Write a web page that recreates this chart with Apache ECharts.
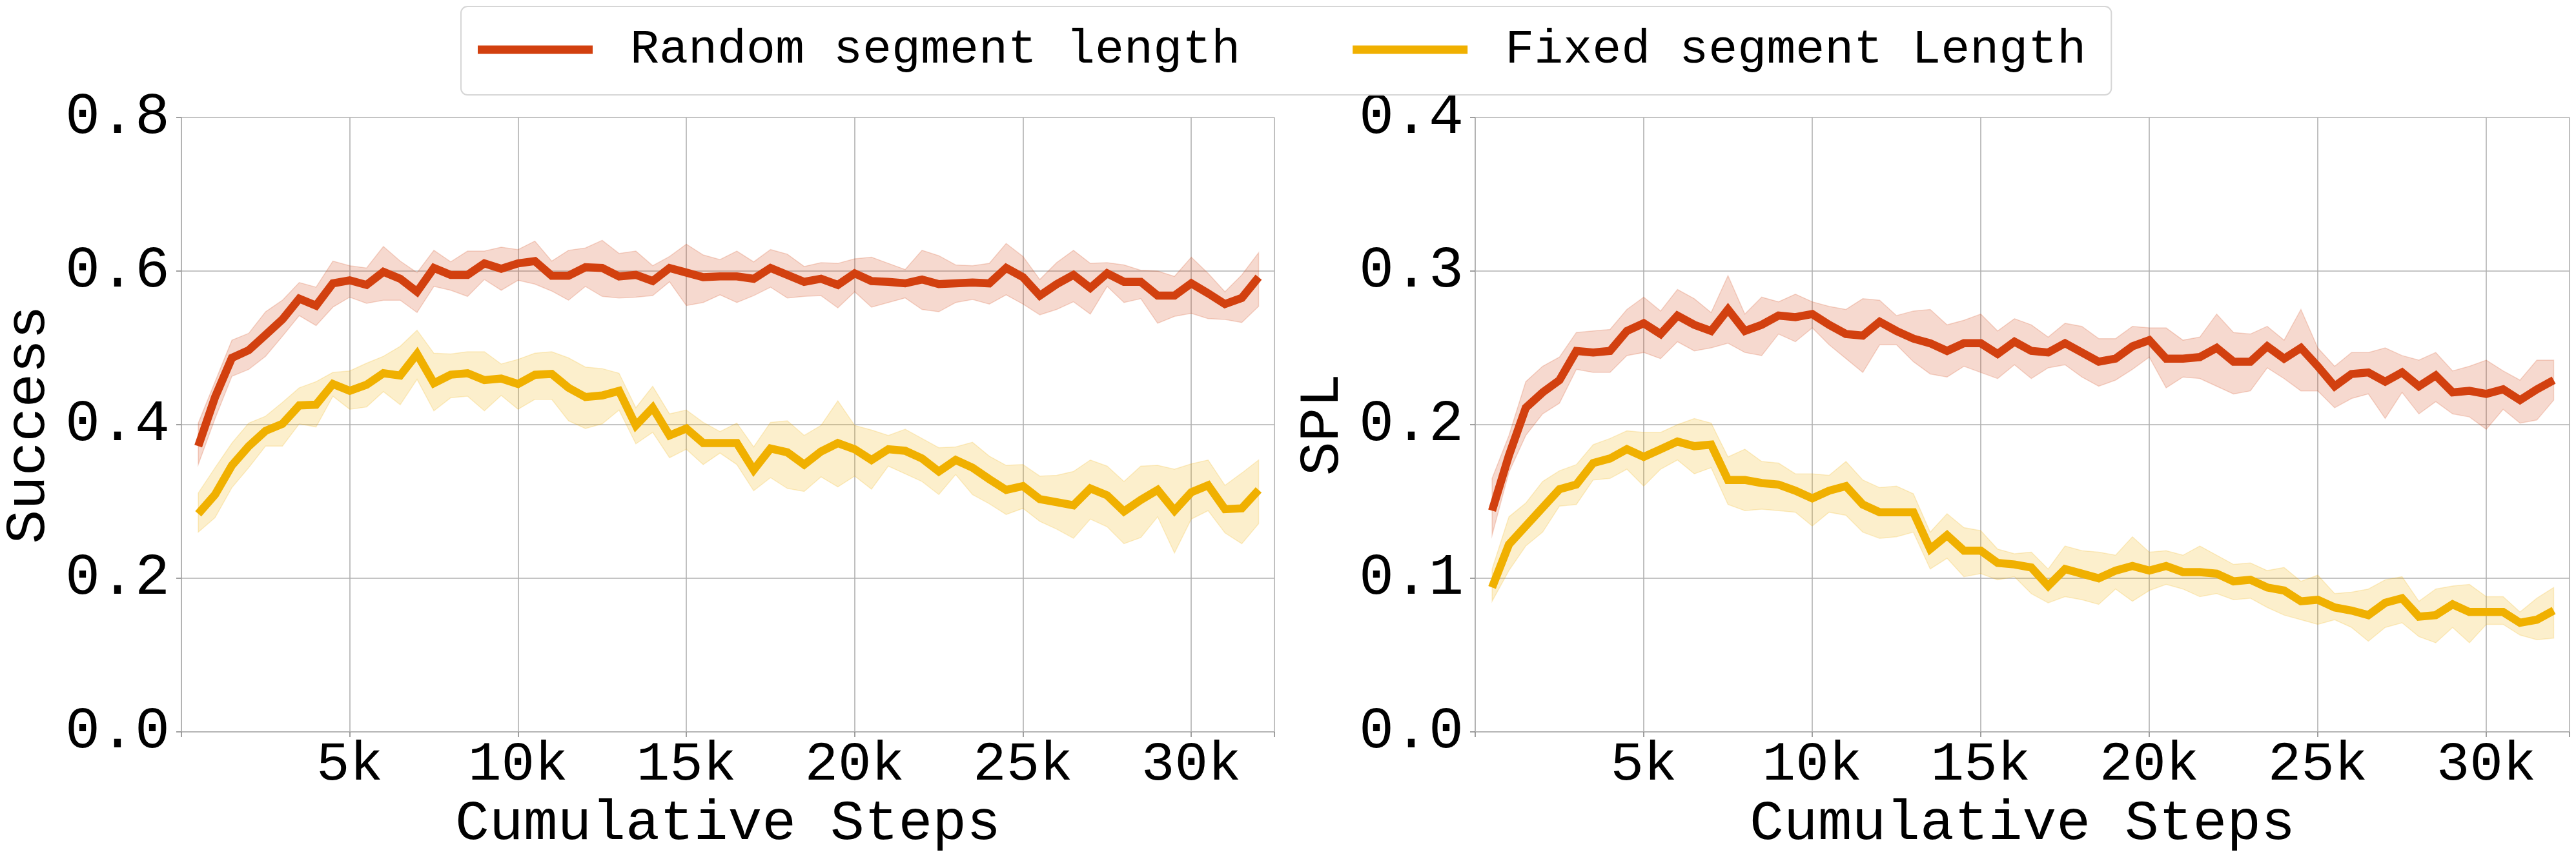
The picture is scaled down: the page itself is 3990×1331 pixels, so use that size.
<!DOCTYPE html>
<html>
<head>
<meta charset="utf-8">
<script src="https://cdn.jsdelivr.net/npm/echarts@6/dist/echarts.min.js"></script>
<style>
  html, body { margin: 0; padding: 0; background: #fff; }
  #main { width: 3990px; height: 1331px; }
</style>
</head>
<body>
<div id="main"></div>
<script>
const steps = [500, 1000, 1500, 2000, 2500, 3000, 3500, 4000, 4500, 5000, 5500, 6000, 6500, 7000, 7500, 8000,
  8500, 9000, 9500, 10000, 10500, 11000, 11500, 12000, 12500, 13000, 13500, 14000, 14500, 15000, 15500, 16000,
  16500, 17000, 17500, 18000, 18500, 19000, 19500, 20000, 20500, 21000, 21500, 22000, 22500, 23000, 23500, 24000,
  24500, 25000, 25500, 26000, 26500, 27000, 27500, 28000, 28500, 29000, 29500, 30000, 30500, 31000, 31500, 32000]

// Success
const successRandom = [0.372, 0.436, 0.487, 0.497, 0.517, 0.537, 0.564, 0.555, 0.584, 0.588, 0.582, 0.599, 0.590, 0.573, 0.604, 0.595,
  0.595, 0.610, 0.603, 0.610, 0.613, 0.594, 0.594, 0.605, 0.604, 0.593, 0.595, 0.587, 0.604, 0.598, 0.592, 0.593,
  0.593, 0.590, 0.604, 0.595, 0.586, 0.590, 0.582, 0.597, 0.587, 0.586, 0.584, 0.589, 0.583, 0.584, 0.585, 0.584,
  0.604, 0.592, 0.568, 0.583, 0.595, 0.578, 0.597, 0.586, 0.586, 0.568, 0.568, 0.584, 0.571, 0.557, 0.565, 0.592]
const successRandomHigh = [0.402, 0.456, 0.510, 0.519, 0.547, 0.562, 0.585, 0.579, 0.613, 0.607, 0.604, 0.632, 0.613, 0.598, 0.627, 0.612,
  0.626, 0.626, 0.631, 0.628, 0.639, 0.613, 0.627, 0.630, 0.640, 0.623, 0.626, 0.607, 0.619, 0.635, 0.621, 0.615,
  0.626, 0.612, 0.628, 0.622, 0.606, 0.611, 0.610, 0.616, 0.618, 0.610, 0.602, 0.627, 0.620, 0.608, 0.607, 0.610,
  0.636, 0.619, 0.589, 0.611, 0.627, 0.610, 0.611, 0.608, 0.601, 0.600, 0.593, 0.618, 0.597, 0.573, 0.595, 0.624]
const successRandomLow = [0.348, 0.408, 0.463, 0.472, 0.489, 0.515, 0.542, 0.529, 0.553, 0.566, 0.558, 0.562, 0.562, 0.546, 0.580, 0.575,
  0.567, 0.589, 0.575, 0.588, 0.583, 0.574, 0.562, 0.580, 0.567, 0.565, 0.566, 0.568, 0.586, 0.555, 0.559, 0.569,
  0.559, 0.568, 0.579, 0.565, 0.567, 0.568, 0.552, 0.573, 0.553, 0.559, 0.565, 0.550, 0.547, 0.559, 0.563, 0.557,
  0.569, 0.557, 0.543, 0.550, 0.560, 0.544, 0.580, 0.559, 0.564, 0.532, 0.541, 0.545, 0.538, 0.537, 0.533, 0.554]
const successFixed = [0.284, 0.309, 0.347, 0.372, 0.392, 0.401, 0.425, 0.426, 0.453, 0.444, 0.452, 0.467, 0.464, 0.492, 0.454, 0.465,
  0.467, 0.458, 0.460, 0.453, 0.465, 0.466, 0.448, 0.436, 0.438, 0.444, 0.399, 0.422, 0.386, 0.395, 0.376, 0.376,
  0.376, 0.341, 0.369, 0.364, 0.348, 0.365, 0.376, 0.368, 0.354, 0.368, 0.366, 0.356, 0.339, 0.354, 0.344, 0.329,
  0.315, 0.320, 0.303, 0.299, 0.295, 0.317, 0.308, 0.287, 0.302, 0.315, 0.288, 0.312, 0.321, 0.290, 0.291, 0.315]
const successFixedHigh = [0.311, 0.344, 0.376, 0.402, 0.411, 0.429, 0.448, 0.456, 0.468, 0.470, 0.480, 0.489, 0.502, 0.523, 0.493, 0.492,
  0.495, 0.495, 0.479, 0.485, 0.493, 0.495, 0.487, 0.475, 0.473, 0.467, 0.422, 0.450, 0.414, 0.419, 0.403, 0.391,
  0.402, 0.371, 0.403, 0.405, 0.386, 0.399, 0.431, 0.399, 0.393, 0.386, 0.394, 0.382, 0.370, 0.371, 0.377, 0.359,
  0.347, 0.348, 0.333, 0.334, 0.339, 0.354, 0.346, 0.326, 0.346, 0.347, 0.342, 0.349, 0.354, 0.321, 0.337, 0.354]
const successFixedLow = [0.260, 0.279, 0.318, 0.344, 0.372, 0.372, 0.401, 0.397, 0.437, 0.420, 0.423, 0.443, 0.426, 0.459, 0.418, 0.435,
  0.437, 0.418, 0.438, 0.420, 0.433, 0.433, 0.405, 0.395, 0.401, 0.419, 0.375, 0.390, 0.357, 0.368, 0.348, 0.363,
  0.348, 0.314, 0.331, 0.317, 0.313, 0.332, 0.319, 0.333, 0.316, 0.346, 0.336, 0.326, 0.309, 0.335, 0.309, 0.297,
  0.283, 0.291, 0.274, 0.264, 0.252, 0.277, 0.267, 0.245, 0.253, 0.280, 0.233, 0.277, 0.288, 0.259, 0.245, 0.271]

// SPL
const splRandom = [0.144, 0.180, 0.211, 0.221, 0.229, 0.248, 0.247, 0.248, 0.261, 0.266, 0.259, 0.271, 0.265, 0.261, 0.275, 0.261,
  0.265, 0.271, 0.270, 0.272, 0.265, 0.259, 0.258, 0.267, 0.261, 0.256, 0.253, 0.248, 0.253, 0.253, 0.246, 0.254,
  0.248, 0.247, 0.253, 0.247, 0.241, 0.243, 0.251, 0.255, 0.243, 0.243, 0.244, 0.250, 0.241, 0.241, 0.251, 0.243,
  0.250, 0.238, 0.225, 0.233, 0.234, 0.228, 0.234, 0.225, 0.232, 0.221, 0.222, 0.220, 0.223, 0.216, 0.223, 0.229]
const splRandomHigh = [0.165, 0.193, 0.228, 0.238, 0.244, 0.260, 0.261, 0.262, 0.275, 0.283, 0.274, 0.288, 0.282, 0.273, 0.297, 0.272,
  0.283, 0.280, 0.285, 0.280, 0.277, 0.275, 0.282, 0.281, 0.271, 0.274, 0.275, 0.265, 0.268, 0.272, 0.261, 0.269,
  0.265, 0.257, 0.266, 0.264, 0.256, 0.256, 0.264, 0.263, 0.263, 0.255, 0.257, 0.272, 0.260, 0.259, 0.264, 0.255,
  0.275, 0.250, 0.238, 0.247, 0.247, 0.250, 0.245, 0.242, 0.247, 0.235, 0.238, 0.242, 0.235, 0.229, 0.242, 0.242]
const splRandomLow = [0.128, 0.169, 0.193, 0.207, 0.214, 0.236, 0.234, 0.234, 0.245, 0.247, 0.243, 0.254, 0.248, 0.250, 0.253, 0.247,
  0.245, 0.259, 0.254, 0.263, 0.252, 0.243, 0.234, 0.252, 0.252, 0.241, 0.233, 0.231, 0.238, 0.234, 0.230, 0.239,
  0.230, 0.237, 0.239, 0.231, 0.225, 0.229, 0.236, 0.244, 0.224, 0.231, 0.230, 0.225, 0.220, 0.222, 0.237, 0.230,
  0.222, 0.222, 0.211, 0.217, 0.220, 0.204, 0.221, 0.207, 0.215, 0.207, 0.205, 0.197, 0.210, 0.201, 0.203, 0.216]
const splFixed = [0.094, 0.122, 0.134, 0.146, 0.158, 0.161, 0.175, 0.178, 0.184, 0.179, 0.184, 0.189, 0.186, 0.187, 0.164, 0.164,
  0.162, 0.161, 0.157, 0.152, 0.157, 0.160, 0.148, 0.143, 0.143, 0.143, 0.119, 0.128, 0.118, 0.118, 0.110, 0.109,
  0.107, 0.095, 0.106, 0.103, 0.100, 0.105, 0.108, 0.105, 0.108, 0.104, 0.104, 0.103, 0.098, 0.099, 0.094, 0.092,
  0.085, 0.086, 0.081, 0.079, 0.076, 0.084, 0.087, 0.075, 0.076, 0.083, 0.078, 0.078, 0.078, 0.071, 0.073, 0.079]
const splFixedHigh = [0.106, 0.140, 0.149, 0.163, 0.170, 0.174, 0.187, 0.191, 0.196, 0.195, 0.195, 0.200, 0.204, 0.201, 0.179, 0.184,
  0.176, 0.175, 0.168, 0.168, 0.167, 0.176, 0.164, 0.159, 0.160, 0.155, 0.130, 0.142, 0.133, 0.131, 0.119, 0.116,
  0.117, 0.106, 0.121, 0.118, 0.117, 0.115, 0.127, 0.117, 0.118, 0.115, 0.121, 0.115, 0.109, 0.110, 0.105, 0.107,
  0.098, 0.102, 0.090, 0.091, 0.093, 0.099, 0.101, 0.085, 0.093, 0.095, 0.096, 0.088, 0.088, 0.078, 0.087, 0.094]
const splFixedLow = [0.085, 0.105, 0.121, 0.130, 0.147, 0.148, 0.164, 0.165, 0.171, 0.160, 0.171, 0.177, 0.168, 0.172, 0.148, 0.144,
  0.145, 0.144, 0.143, 0.134, 0.143, 0.141, 0.130, 0.126, 0.127, 0.130, 0.106, 0.113, 0.101, 0.103, 0.099, 0.101,
  0.090, 0.084, 0.088, 0.086, 0.083, 0.093, 0.085, 0.092, 0.096, 0.093, 0.088, 0.090, 0.086, 0.087, 0.081, 0.076,
  0.073, 0.070, 0.073, 0.068, 0.059, 0.068, 0.071, 0.062, 0.058, 0.068, 0.058, 0.070, 0.070, 0.063, 0.060, 0.061]

const xTicks = [5000, 10000, 15000, 20000, 25000, 30000]
const RED = '#d2400f'
const YELLOW = '#f0b000'
const FONT = 'Liberation Mono'
const GRID = '#b0b0b0'

const pairs = arr => arr.map((v, i) => [steps[i], v])

// shaded band between low and high, drawn once as a polygon through the axes
function band(idx, low, high, color) {
  return {
    type: 'custom',
    xAxisIndex: idx,
    yAxisIndex: idx,
    silent: true,
    data: steps.map((s, i) => [s, low[i], high[i]]),
    encode: { x: 0, y: [1, 2] },
    renderItem(params, api) {
      if (params.dataIndex !== 0) return
      const pts = []
      for (let i = 0; i < steps.length; i++) pts.push(api.coord([steps[i], high[i]]))
      for (let i = steps.length - 1; i >= 0; i--) pts.push(api.coord([steps[i], low[i]]))
      return {
        type: 'polygon',
        shape: { points: pts },
        style: { fill: color, opacity: 0.2, stroke: color, lineWidth: 1.5 }
      }
    }
  }
}

function line(idx, name, arr, color) {
  return {
    type: 'line',
    name: name,
    xAxisIndex: idx,
    yAxisIndex: idx,
    data: pairs(arr),
    showSymbol: false,
    symbol: 'none',
    itemStyle: { color: color },
    lineStyle: { color: color, width: 12.5, join: 'miter' }
  }
}

function xAxis(idx) {
  return {
    type: 'value',
    gridIndex: idx,
    min: 0,
    max: 32470,
    interval: 5000,
    name: 'Cumulative Steps',
    nameLocation: 'middle',
    nameGap: 94,
    nameTextStyle: { fontFamily: FONT, fontSize: 88, color: '#000', lineHeight: 88 },
    axisLine: { show: true, lineStyle: { color: GRID, width: 1.6 } },
    axisTick: { show: true, length: 8, lineStyle: { color: '#888', width: 1.6 } },
    axisLabel: {
      fontFamily: FONT, fontSize: 86, color: '#000', margin: 8,
      formatter: v => (xTicks.indexOf(v) >= 0 ? v / 1000 + 'k' : '')
    },
    splitLine: { show: true, lineStyle: { color: GRID, width: 1.6 } }
  }
}

function yAxis(idx, name, max, interval) {
  return {
    type: 'value',
    gridIndex: idx,
    min: 0,
    max: max,
    interval: interval,
    name: name,
    nameLocation: 'middle',
    nameRotate: 90,
    nameGap: 192,
    nameTextStyle: { fontFamily: FONT, fontSize: 88, color: '#000', lineHeight: 88 },
    axisLine: { show: true, lineStyle: { color: GRID, width: 1.6 } },
    axisTick: { show: true, length: 8, lineStyle: { color: '#888', width: 1.6 } },
    axisLabel: {
      fontFamily: FONT, fontSize: 90, color: '#000', margin: 18,
      formatter: v => v.toFixed(1)
    },
    splitLine: { show: true, lineStyle: { color: GRID, width: 1.6 } }
  }
}

const chart = echarts.init(document.getElementById('main'))
chart.setOption({
  backgroundColor: '#fff',
  animation: false,
  legend: {
    data: ['Random segment length', 'Fixed segment Length'],
    left: 714,
    top: 10,
    padding: [22, 39, 25, 26],
    itemGap: 174,
    itemWidth: 178,
    itemHeight: 13,
    icon: 'rect',
    borderColor: '#d6d6d6',
    borderWidth: 2,
    borderRadius: 10,
    backgroundColor: '#fff',
    textStyle: { fontFamily: FONT, fontSize: 75, color: '#000', lineHeight: 90, padding: [0, 0, 0, 53] }
  },
  grid: [
    { left: 279, right: 2016, top: 182, bottom: 197 },
    { left: 2285, right: 10, top: 182, bottom: 197 }
  ],
  xAxis: [xAxis(0), xAxis(1)],
  yAxis: [yAxis(0, 'Success', 0.8, 0.2), yAxis(1, 'SPL', 0.4, 0.1)],
  series: [
    band(0, successRandomLow, successRandomHigh, RED),
    line(0, 'Random segment length', successRandom, RED),
    band(0, successFixedLow, successFixedHigh, YELLOW),
    line(0, 'Fixed segment Length', successFixed, YELLOW),
    band(1, splRandomLow, splRandomHigh, RED),
    line(1, 'Random segment length', splRandom, RED),
    band(1, splFixedLow, splFixedHigh, YELLOW),
    line(1, 'Fixed segment Length', splFixed, YELLOW)
  ]
})
</script>
</body>
</html>
